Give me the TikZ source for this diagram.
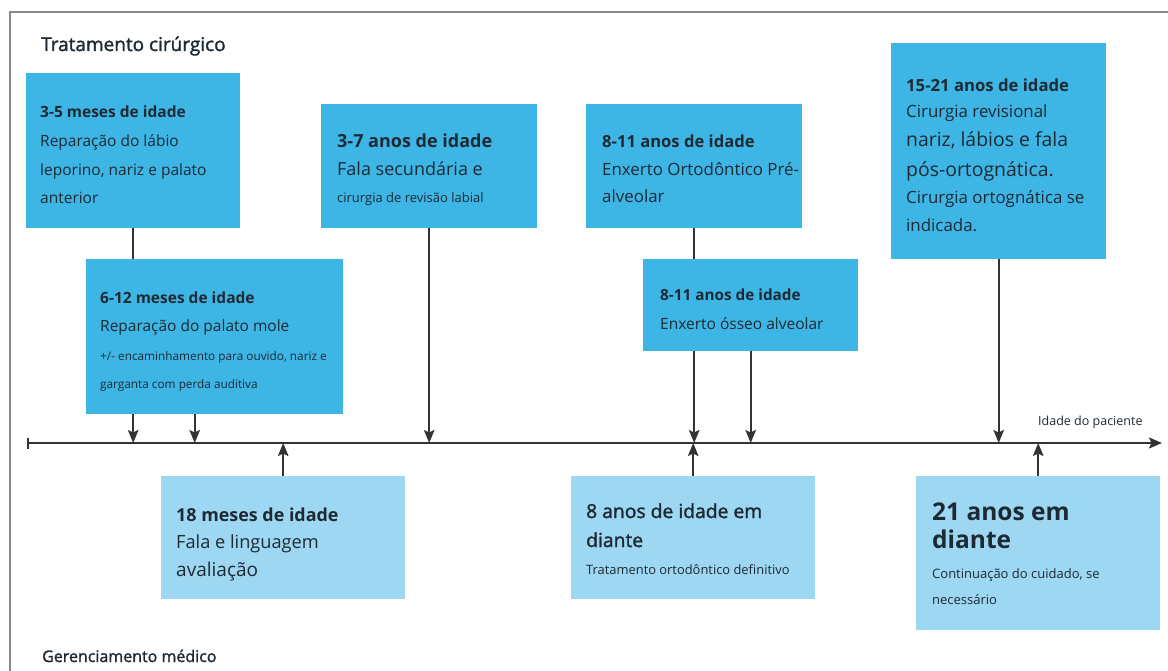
\documentclass[tikz,border=0pt]{standalone}
\usepackage{fontspec}
\setmainfont{Open Sans}
\newfontfamily\semibf[FakeBold=1.6]{Open Sans}
\usetikzlibrary{arrows.meta,backgrounds}
\definecolor{boxdark}{HTML}{3DB5E5}
\definecolor{boxlight}{HTML}{9DD7F1}
\definecolor{ink}{HTML}{1E2A33}
\definecolor{lin}{HTML}{333333}
\definecolor{framec}{HTML}{8A8A8A}
\newcommand{\fs}[1]{\fontsize{#1}{#1}\selectfont}
\tikzset{
  darkbox/.style={fill=boxdark, draw=none, anchor=north west, inner sep=0pt},
  lightbox/.style={fill=boxlight, draw=none, anchor=north west, inner sep=0pt},
  txt/.style={anchor=base west, inner sep=0pt, text=ink},
  arr/.style={draw=lin, line width=1.9pt, -{Stealth[length=13pt,width=10.5pt,inset=2.5pt]}},
}
\begin{document}
\begin{tikzpicture}[x=1pt,y=-1pt]
\useasboundingbox (0,0) rectangle (1168,671);
% frame
\draw[framec, line width=2pt] (10,671) -- (10,12) -- (1168,12);
% axis
\coordinate (axL) at (27,443);
\coordinate (axR) at (1162,443);
\draw[draw=lin, line width=1.9pt, {Bar[width=11pt]}-{Stealth[length=13pt,width=11pt,inset=2.5pt]}] (axL) -- (axR);

% boxes
\node[darkbox, minimum width=214pt, minimum height=155pt] (b1) at (26,73) {};
\node[darkbox, minimum width=216pt, minimum height=124pt] (b3) at (321,104) {};
\node[darkbox, minimum width=216pt, minimum height=124pt] (b4) at (586,104) {};
\node[darkbox, minimum width=215pt, minimum height=216pt] (b6) at (891,43) {};
\node[lightbox, minimum width=244pt, minimum height=123pt] (b7) at (161,476) {};
\node[lightbox, minimum width=244pt, minimum height=123pt] (b8) at (571,476) {};
\node[lightbox, minimum width=244pt, minimum height=154pt] (b9) at (916,476) {};

% connectors that pass behind boxes
\draw[arr] (b1.south) -- (b1.south |- axL);
\draw[arr] (b4.south) -- (b4.south |- axL);

\node[darkbox, minimum width=257pt, minimum height=155pt] (b2) at (86,259) {};
\node[darkbox, minimum width=215pt, minimum height=92pt] (b5) at (643,259) {};

\draw[arr] ([xshift=-20pt]b2.south) -- ([xshift=-20pt]b2.south |- axL);
\draw[arr] (b3.south) -- (b3.south |- axL);
\draw[arr] (b5.south) -- (b5.south |- axL);
\draw[arr] (b6.south) -- (b6.south |- axL);
\draw[arr] (b7.north) -- (b7.north |- axL);
\draw[arr] (b8.north) -- (b8.north |- axL);
\draw[arr] (b9.north) -- (b9.north |- axL);

% titles
\node[txt, font=\semibf\fs{19}] (title1) at (41,51) {Tratamento cirúrgico};
\node[txt, font=\semibf\fs{16}] (title2) at (42,662) {Gerenciamento médico};
\node[txt, font=\fs{12.5}] (axlab) at (1038,425) {Idade do paciente};

% box 1
\node[txt, font=\fs{15.5}\bfseries] (t1a) at (40,118) {3-5 meses de idade};
\node[txt, font=\fs{15.5}] (t1b) at (40,147) {Reparação do lábio};
\node[txt, font=\fs{15.5}] (t1c) at (40,176) {leporino, nariz e palato};
\node[txt, font=\fs{15.5}] (t1d) at (40,204) {anterior};
% box 2
\node[txt, font=\fs{15.5}\bfseries] (t2a) at (100,303) {6-12 meses de idade};
\node[txt, font=\fs{15.5}] (t2b) at (100,331) {Reparação do palato mole};
\node[txt, font=\fs{11.8}] (t2c) at (100,360) {+/- encaminhamento para ouvido, nariz e};
\node[txt, font=\fs{11.8}] (t2d) at (100,388) {garganta com perda auditiva};
% box 3
\node[txt, font=\fs{18}\bfseries] (t3a) at (337,148) {3-7 anos de idade};
\node[txt, font=\fs{18}] (t3b) at (337,176) {Fala secundária e};
\node[txt, font=\fs{13}] (t3c) at (337,203) {cirurgia de revisão labial};
% box 4
\node[txt, font=\fs{16.6}\bfseries] (t4a) at (602,148) {8-11 anos de idade};
\node[txt, font=\fs{16.9}] (t4b) at (602,176) {Enxerto Ortodôntico Pré-};
\node[txt, font=\fs{16.9}] (t4c) at (602,203) {alveolar};
% box 5
\node[txt, font=\fs{15.3}\bfseries] (t5a) at (660,301) {8-11 anos de idade};
\node[txt, font=\fs{15.5}] (t5b) at (660,330) {Enxerto ósseo alveolar};
% box 6
\node[txt, font=\fs{16.7}\bfseries] (t6a) at (906,92) {15-21 anos de idade};
\node[txt, font=\fs{16.9}] (t6b) at (906,118) {Cirurgia revisional};
\node[txt, font=\fs{19.4}] (t6c) at (906,147) {nariz, lábios e fala};
\node[txt, font=\fs{19.4}] (t6d) at (906,177) {pós-ortognática.};
\node[txt, font=\fs{16.9}] (t6e) at (906,204) {Cirurgia ortognática se};
\node[txt, font=\fs{16.9}] (t6f) at (906,232) {indicada.};
% box 7
\node[txt, font=\fs{17.9}\bfseries] (t7a) at (176,521) {18 meses de idade};
\node[txt, font=\fs{18.2}] (t7b) at (176,548) {Fala e linguagem};
\node[txt, font=\fs{19}] (t7c) at (176,576) {avaliação};
% box 8
\node[txt, font=\semibf\fs{19.3}] (t8a) at (586,518) {8 anos de idade em};
\node[txt, font=\semibf\fs{19.3}] (t8b) at (586,547) {diante};
\node[txt, font=\fs{12.9}] (t8c) at (586,574) {Tratamento ortodôntico definitivo};
% box 9
\node[txt, font=\fs{24.5}\bfseries] (t9a) at (932,520) {21 anos em};
\node[txt, font=\fs{24.5}\bfseries] (t9b) at (932,548) {diante};
\node[txt, font=\fs{13}] (t9c) at (932,578) {Continuação do cuidado, se};
\node[txt, font=\fs{13}] (t9d) at (932,604) {necessário};
\end{tikzpicture}
\end{document}
